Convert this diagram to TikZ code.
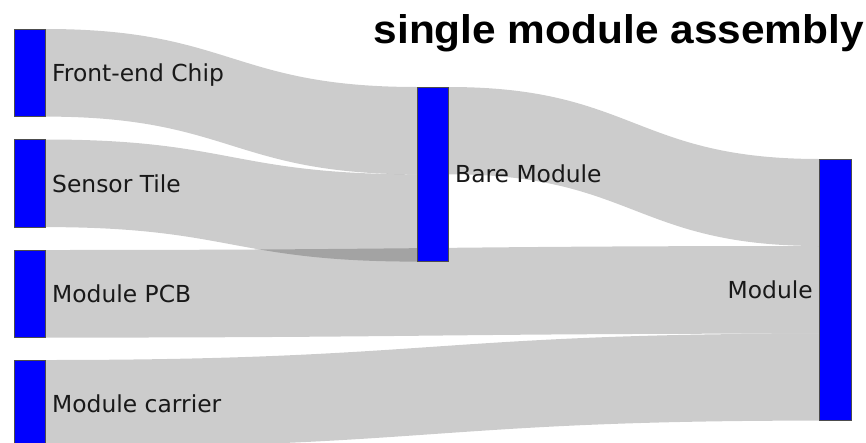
\documentclass[tikz,border=0pt]{standalone}
\usepackage{fontspec}
\setmainfont{DejaVu Sans}
\newfontfamily\titlefont{Liberation Sans}
\usetikzlibrary{calc}
\begin{document}
\begin{tikzpicture}[x=1pt,y=-1pt,
  nodebox/.style={draw=black!70, line width=0.6pt, fill={rgb,255:red,0;green,0;blue,255}, minimum width=31pt, inner sep=0pt, anchor=north west},
  flow/.style={fill=black, fill opacity=0.2},
  lbl/.style={inner sep=0pt, text=black!90, font=\fontsize{23.4}{28}\selectfont}]
\clip (0,0) rectangle (866,442);
\fill[white] (0,0) rectangle (866,442);
% nodes (placed first for anchors; redrawn later on top)
\path (14,29) node[nodebox, minimum height=87pt, draw=none, fill=none] (fe) {};
\path (14,139.5) node[nodebox, minimum height=87pt, draw=none, fill=none] (st) {};
\path (14,250) node[nodebox, minimum height=87pt, draw=none, fill=none] (pcb) {};
\path (14,360) node[nodebox, minimum height=87pt, draw=none, fill=none] (car) {};
\path (417,87) node[nodebox, minimum height=174pt, draw=none, fill=none] (bm) {};
\path (819.5,159) node[nodebox, minimum height=261pt, draw=none, fill=none] (mod) {};
\coordinate (mA) at ($(mod.north west)+(0,87)$);
\coordinate (mB) at ($(mod.south west)+(0,-87)$);
\coordinate (c1) at ($(fe.east)!0.5!(bm.west)$);
\coordinate (c2) at ($(bm.east)!0.5!(mod.west)$);
\coordinate (c3) at ($(pcb.east)!0.5!(mod.west)$);
% flows
\fill[flow] (fe.north east) .. controls (c1 |- fe.north east) and (c1 |- bm.north west) .. (bm.north west)
  -- (bm.west) .. controls (c1 |- bm.west) and (c1 |- fe.south east) .. (fe.south east) -- cycle;
\fill[flow] (st.north east) .. controls (c1 |- st.north east) and (c1 |- bm.west) .. (bm.west)
  -- (bm.south west) .. controls (c1 |- bm.south west) and (c1 |- st.south east) .. (st.south east) -- cycle;
\fill[flow] (bm.north east) .. controls (c2 |- bm.north east) and (c2 |- mod.north west) .. (mod.north west)
  -- (mA) .. controls (c2 |- mA) and (c2 |- bm.east) .. (bm.east) -- cycle;
\fill[flow] (pcb.north east) .. controls (c3 |- pcb.north east) and (c3 |- mA) .. (mA)
  -- (mB) .. controls (c3 |- mB) and (c3 |- pcb.south east) .. (pcb.south east) -- cycle;
\fill[flow] (car.north east) .. controls (c3 |- car.north east) and (c3 |- mB) .. (mB)
  -- (mod.south west) .. controls (c3 |- mod.south west) and (c3 |- car.south east) .. (car.south east) -- cycle;
% visible nodes
\foreach \n in {fe,st,pcb,car,bm,mod}{
  \draw[draw=black!70, line width=0.6pt, fill={rgb,255:red,0;green,0;blue,255}] (\n.north west) rectangle (\n.south east);
}
% labels
\node[lbl, anchor=base west] (fel) at (52,81.5) {Front-end Chip};
\node[lbl, anchor=base west] (stl) at (52,192) {Sensor Tile};
\node[lbl, anchor=base west] (pcbl) at (52,302) {Module PCB};
\node[lbl, anchor=base west] (carl) at (52,412) {Module carrier};
\node[lbl, anchor=base west] (bml) at (455,182.5) {Bare Module};
\node[lbl, anchor=base east] (modl) at (813,298.5) {Module};
\node[inner sep=0pt, anchor=base east] (title) at (864,43) {\scalebox{1.06}[1]{\titlefont\bfseries\fontsize{40}{46}\selectfont single module assembly}};
\end{tikzpicture}
\end{document}
